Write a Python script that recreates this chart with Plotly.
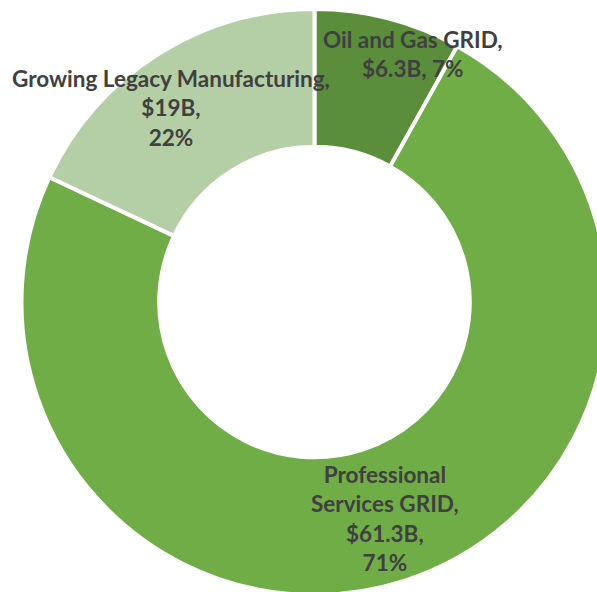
import plotly.graph_objects as go

# Data
segments = ["Oil and Gas GRID", "Professional Services GRID", "Growing Legacy Manufacturing"]
# slice shares as drawn in the reference (percent of the ring)
slice_share = [8.1, 73.9, 18.0]
# label values as printed on the chart
value_labels = ["$6.3B", "$61.3B", "$19B"]
pct_labels = ["7%", "71%", "22%"]

colors = ["#5a8e3a", "#70ad47", "#b4cea6"]

W, H = 620, 600

fig = go.Figure()
fig.add_trace(go.Pie(
    labels=segments,
    values=slice_share,
    hole=0.53,
    sort=False,
    direction="clockwise",
    rotation=0,
    marker=dict(colors=colors, line=dict(color="white", width=4)),
    textinfo="none",
    hoverinfo="label+percent",
    showlegend=False,
    domain=dict(x=[21.5 / W, 607.5 / W], y=[1 - 595 / H, 1 - 9 / H]),
))

label_texts = [
    f"{segments[0]},<br>{value_labels[0]}, {pct_labels[0]}",
    "Professional<br>Services GRID,<br>" + f"{value_labels[1]},<br>{pct_labels[1]}",
    f"{segments[2]},<br>{value_labels[2]},<br>{pct_labels[2]}",
]
label_pos = [(413, 54), (385, 518), (171, 108)]

for txt, (sx, sy) in zip(label_texts, label_pos):
    fig.add_annotation(
        x=sx / W, y=1 - sy / H, xref="paper", yref="paper",
        text=txt, showarrow=False, align="center",
        xanchor="center", yanchor="middle",
        font=dict(family="Lato", size=22.5, color="#404040", weight="bold"),
    )

fig.update_layout(
    width=W, height=H,
    autosize=False,
    margin=dict(l=0, r=0, t=0, b=0),
    paper_bgcolor="white",
    plot_bgcolor="white",
)

fig.write_html(
    "out.html",
    config={"displayModeBar": False},
    post_script="document.body.style.margin='0';document.body.style.overflow='hidden';",
)
